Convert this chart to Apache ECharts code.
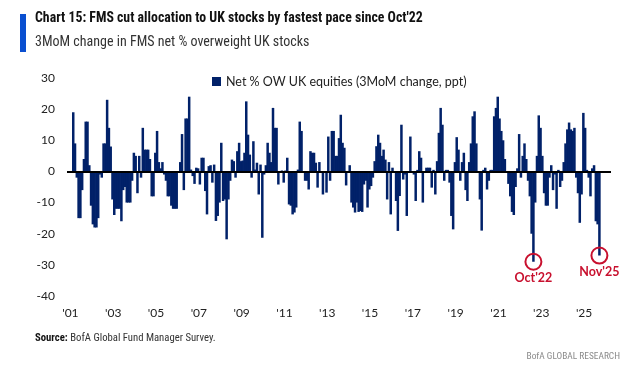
<!DOCTYPE html>
<html><head><meta charset="utf-8">
<script src="https://cdn.jsdelivr.net/npm/echarts@6/dist/echarts.min.js"></script>
<style>html,body{margin:0;padding:0;background:#fff}#c{width:626px;height:373px}</style>
</head><body><div id="c"></div>
<script>
// ---- data ----
const axisStart = [2001, 1];      // first month on the axis
const axisEnd = [2026, 5];        // last month on the axis
const dataStart = '2001-04';      // first month with a value
// 3MoM change in FMS net % overweight UK equities (ppt), monthly from Apr 2001 to Nov 2025
const netOWChange = [
  /*2001*/ 19, 9, -2, -15, -15, -6, 4, 16, 16,
  /*2002*/ 2, -11, -17, -18, -18, -15, -1, -2, 9, 9, 23, 14,
  /*2003*/ 8, -9, -14, -12, -12, -12, -16, -6, -5, -10, -10, -10,
  /*2004*/ -3, 6, 5, -7, 5, -2, 14, 7, 7, 7, 4, -8,
  /*2005*/ -8, 6, 13, 3, 1, 3, -1, -3, -8, -8, -11, -12,
  /*2006*/ -12, -12, 0, 3, 12, -6, 17, 17, 24, 0.6, -1.5, -4,
  /*2007*/ 1.2, 1, -4.2, 4.4, 4.4, -6.3, -13.8, 1.7, 2, -3.6, 2.2, -15.9,
  /*2008*/ -14.3, -10, 9.2, -9.5, -9, -21.8, -9, -3, 3.8, 3.3, -2, 6.5,
  /*2009*/ 9.2, 3.3, 3.5, 6, 22.5, 11.8, 5.4, -2, 9.7, 0.6, 2.8, -7.4,
  /*2010*/ 2.2, -21.3, -1, 2, 9.2, 6, 3, 20.4, 14, 14, -4.2, -0.4,
  /*2011*/ 0.3, -3.6, 0.3, 4.4, -10.6, -11, -13.8, -13.2, -11.6, 0.6, 16, 13,
  /*2012*/ -0.5, -3, -3, -5.8, 6.5, 6, 6, 2.8, -5.2, 3, -0.5, -7.4,
  /*2013*/ -0.5, -6.8, 11.2, -3, 13, 13, 5, 5, 10.7, 18.2, 9.2, 7.6,
  /*2014*/ -4.5, 0, 2, -10, -11.6, -13.2, -10, -13, -12.7, -13, -4.2, -3,
  /*2015*/ -11.6, -5.8, -4.7, -2, 3.3, 8.1, 11.8, 9.2, 5, 7, 3.8, -9,
  /*2016*/ 3, -13.8, 1.2, 0, -9.5, -19.1, -7.9, 15, -2.6, -1, -14.3, -0.5,
  /*2017*/ 11.2, -0.5, -1, -9.5, 0.5, 6.5, 4.4, -10, -0.5, 1.2, 1.2, 1.2,
  /*2018*/ -5.2, 0.5, -7.4, 3.3, 12.4, 20.4, 15, -3, 0.5, 0.5, -3.6, -14.3,
  /*2019*/ -18.6, 3, 11, 7, -3, 3, 6, -6, -9.5, 3, 9, 17.7,
  /*2020*/ 19.3, 9, 0, -9, -19, 0.5, 1.2, -5.8, -3, 0.5, 0.5, 17.7,
  /*2021*/ 20.4, 24, 17, 13, 10, 4, 0, -4, -8, -13, -14, -5,
  /*2022*/ 1, 12, -2, 5, 9, 4, -3, -8, -20, -29, -10, 5,
  /*2023*/ 18, 14, 5, -7, -11, -11, -2, 2, -6, -1, -12, 0.5,
  /*2024*/ -5, -3, 3, 9, 13.5, 15.7, 13.5, 13, 14, -2, -7, -16.5,
  /*2025*/ -7.4, 18.8, 14, 0.5, -2, -8, 1, 2, -16, -17, -27
];
const xTickMonths = ['2001-01','2003-01','2005-01','2007-01','2009-01','2011-01','2013-01','2015-01','2017-01','2019-01','2021-01','2023-01','2025-01'];
const xTickLabels = ["'01","'03","'05","'07","'09","'11","'13","'15","'17","'19","'21","'23","'25"];
const yMin = -40, yMax = 30, yStep = 10;
const highlightMonths = ['2022-10', '2025-11'];
const highlightLabels = ["Oct'22", "Nov'25"];
const seriesName = 'Net % OW UK equities (3MoM change, ppt)';

// ---- build ----
const months = [];
for (let y = axisStart[0], m = axisStart[1]; y < axisEnd[0] || (y === axisEnd[0] && m <= axisEnd[1]); ) {
  months.push(y + '-' + String(m).padStart(2, '0'));
  m++; if (m > 12) { m = 1; y++; }
}
const startIdx = months.indexOf(dataStart);
const seriesData = months.map((c, i) => {
  const k = i - startIdx;
  return (k >= 0 && k < netOWChange.length) ? netOWChange[k] : null;
});
const tickMap = {};
xTickMonths.forEach((m, i) => tickMap[m] = xTickLabels[i]);

const RED = '#c8102e';
const NAVY = '#012169';
const narrow = "'Liberation Sans Narrow', 'Roboto Condensed', 'Liberation Sans', sans-serif";
const body = "Lato, 'Liberation Sans', sans-serif";

const chart = echarts.init(document.getElementById('c'), null, { renderer: 'canvas' });
chart.setOption({
  animation: false,
  backgroundColor: '#fff',
  graphic: [
    { type: 'rect', left: 20, top: 14, shape: { width: 6, height: 38 }, style: { fill: '#0a4fd0' } },
    { type: 'text', left: 35, top: 12, style: { text: "Chart 15: FMS cut allocation to UK stocks by fastest pace since Oct'22", font: "bold 13.8px " + narrow, fill: '#111' } },
    { type: 'text', left: 35, top: 35, style: { text: '3MoM change in FMS net % overweight UK stocks', font: "14px " + narrow, fill: '#333' } },
    { type: 'text', left: 35, top: 333, style: { rich: { b: { fontWeight: 'bold', fontSize: 10.7, fontFamily: narrow, fill: '#111' }, n: { fontSize: 10.7, fontFamily: narrow, fill: '#333' } }, text: '{b|Source:}{n| BofA Global Fund Manager Survey.}' } },
    { type: 'text', right: 6, top: 352, style: { text: 'BofA GLOBAL RESEARCH', font: '9.4px ' + narrow, fill: '#8a8a8a' } }
  ],
  legend: {
    top: 70, left: 207,
    itemWidth: 9, itemHeight: 9, itemGap: 4,
    icon: 'rect',
    textStyle: { fontFamily: body, fontSize: 12.5, color: '#222' },
    data: [seriesName]
  },
  grid: { left: 67, right: 15, top: 78, height: 218, containLabel: false },
  xAxis: {
    type: 'category',
    data: months,
    boundaryGap: true,
    axisLine: { show: false, onZero: false },
    axisTick: { show: false },
    splitLine: { show: false },
    axisLabel: {
      interval: 0,
      formatter: v => tickMap[v] || '',
      fontFamily: body, fontSize: 12, color: '#222', margin: 11,
      padding: [0, 0, 0, 5]
    }
  },
  yAxis: {
    type: 'value', min: yMin, max: yMax, interval: yStep,
    axisLine: { show: false }, axisTick: { show: false }, splitLine: { show: false },
    axisLabel: { fontFamily: body, fontSize: 12, color: '#222', margin: 12 }
  },
  series: [{
    name: seriesName,
    type: 'bar',
    data: seriesData,
    itemStyle: { color: NAVY },
    barWidth: 2.5,
    markLine: {
      silent: true, symbol: 'none',
      lineStyle: { color: '#000', width: 2, type: 'solid' },
      label: { show: false },
      data: [{ yAxis: 0 }]
    },
    markPoint: {
      silent: true,
      data: highlightMonths.map((m, i) => ({
        coord: [m, seriesData[months.indexOf(m)]],
        symbol: 'circle', symbolSize: 16,
        itemStyle: { color: 'rgba(255,255,255,0)', borderColor: RED, borderWidth: 2 },
        label: { show: true, position: 'bottom', distance: 1, formatter: highlightLabels[i], color: RED, fontWeight: 'bold', fontFamily: body, fontSize: 12.5 }
      }))
    }
  }]
});
</script></body></html>
